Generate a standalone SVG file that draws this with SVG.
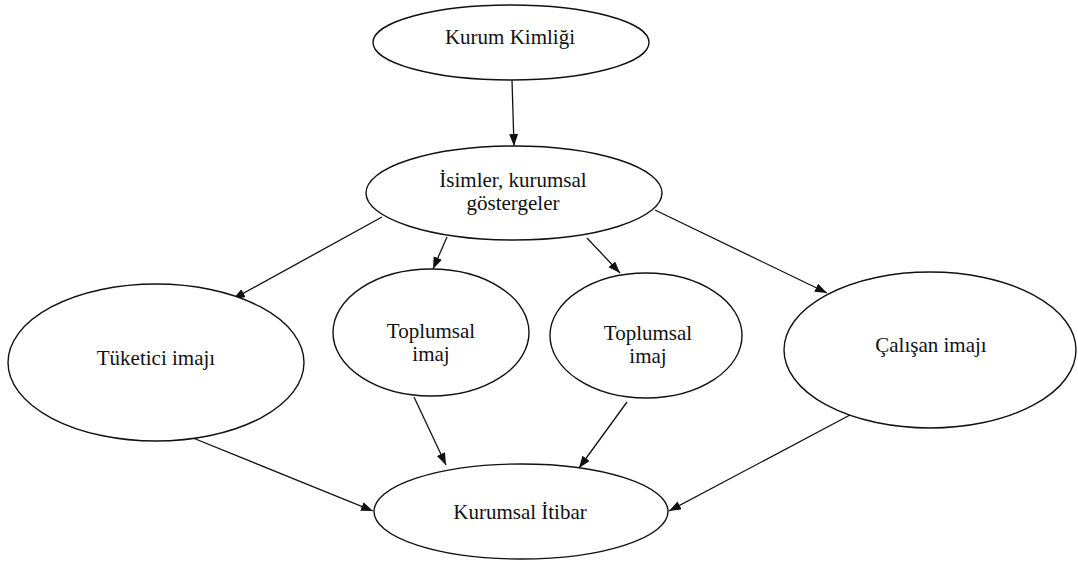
<svg xmlns="http://www.w3.org/2000/svg" width="1078" height="562" viewBox="0 0 1078 562">
<style>
.n ellipse{fill:#fff;stroke:#111;stroke-width:1.4}
.n text{font-family:"Liberation Serif","Times New Roman",serif;font-size:21px;fill:#111;text-anchor:middle}
.c line{stroke:#111;stroke-width:1.3;marker-end:url(#ah)}
</style>
<defs>
<marker id="ah" markerUnits="userSpaceOnUse" markerWidth="13" markerHeight="10" refX="12" refY="4.5" orient="auto">
<path d="M0,0 L12,4.5 L0,9 z" fill="#111"/>
</marker>
</defs>
<rect width="1078" height="562" fill="#fff"/>
<g class="c" id="connectors">
<line x1="512" y1="80" x2="514" y2="146"/>
<line x1="382" y1="217" x2="233" y2="299"/>
<line x1="447" y1="237" x2="433" y2="269"/>
<line x1="587" y1="238" x2="620" y2="273"/>
<line x1="655" y1="210" x2="827" y2="293"/>
<line x1="193" y1="438" x2="373" y2="511"/>
<line x1="414" y1="397" x2="446" y2="465"/>
<line x1="627" y1="402" x2="579" y2="468"/>
<line x1="850" y1="415" x2="669" y2="511"/>
</g>
<g class="n" id="kurum-kimligi">
<ellipse cx="511" cy="42.5" rx="138" ry="37.5"/>
<text x="510" y="44">Kurum Kimliği</text>
</g>
<g class="n" id="isimler">
<ellipse cx="514" cy="193" rx="148" ry="47"/>
<text x="513" y="187">İsimler, kurumsal</text>
<text x="513" y="210">göstergeler</text>
</g>
<g class="n" id="tuketici">
<ellipse cx="156" cy="362.5" rx="148" ry="78.5"/>
<text x="156" y="365">Tüketici imajı</text>
</g>
<g class="n" id="toplumsal-1">
<ellipse cx="431" cy="332.5" rx="98" ry="63.5"/>
<text x="431" y="338">Toplumsal</text>
<text x="431" y="361">imaj</text>
</g>
<g class="n" id="toplumsal-2">
<ellipse cx="646" cy="335.5" rx="96" ry="62.5"/>
<text x="648" y="340">Toplumsal</text>
<text x="648" y="363">imaj</text>
</g>
<g class="n" id="calisan">
<ellipse cx="930" cy="350" rx="146" ry="78"/>
<text x="931" y="352">Çalışan imajı</text>
</g>
<g class="n" id="kurumsal-itibar">
<ellipse cx="521" cy="511.5" rx="147" ry="47.5"/>
<text x="520" y="519">Kurumsal İtibar</text>
</g>
</svg>
